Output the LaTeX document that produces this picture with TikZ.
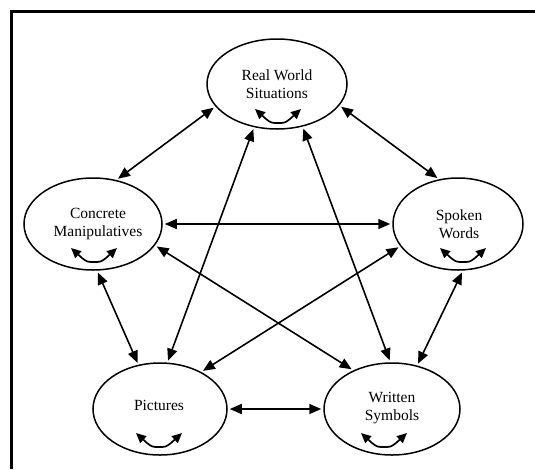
\documentclass[tikz,border=0pt]{standalone}
\usepackage{fontspec}
\setmainfont{Liberation Serif}
\usetikzlibrary{arrows.meta,shapes.geometric,bending}
\begin{document}
\begin{tikzpicture}[x=1pt,y=-1pt,
  bubble/.style={draw, ellipse, line width=1.5pt, inner sep=0pt},
  txt/.style={align=center, font=\fontsize{15.5}{18}\selectfont, inner sep=0pt},
  link/.style={{Triangle[length=12pt,width=10pt]}-{Triangle[length=12pt,width=10pt]}, line width=1.6pt, shorten <=2pt, shorten >=2pt},
  twist/.style={{Triangle[length=10pt,width=9pt,flex]}-{Triangle[length=10pt,width=9pt,flex]}, line width=1.7pt},
  frame/.style={line width=3pt}]
\useasboundingbox (0,0) rectangle (535,469);
\draw[frame] (11,469) -- (11,11.5) -- (535,11.5);

\node[bubble, minimum width=140, minimum height=90] (rw) at (277,84) {};
\node[bubble, minimum width=138, minimum height=92] (cm) at (93,224) {};
\node[bubble, minimum width=130, minimum height=92] (sw) at (458,224) {};
\node[bubble, minimum width=134, minimum height=92] (pi) at (160,409) {};
\node[bubble, minimum width=136, minimum height=92] (ws) at (392,409) {};

\node[txt] (rwt) at (277,84) {Real World\\Situations};
\node[txt] (cmt) at (98,224) {Concrete\\Manipulatives};
\node[txt] (swt) at (459,224) {Spoken\\Words};
\node[txt] (pit) at (159,405) {Pictures};
\node[txt] (wst) at (392,408) {Written\\Symbols};

\draw[link] (rw.200) -- (cm.62);
\draw[link] (rw.341) -- (sw.113);
\draw[link] (rw.242) -- (pi.81);
\draw[link] (rw.301) -- (ws.92);
\draw[link] (cm.0) -- (sw.180);
\draw[link] (cm.341) -- (ws.135);
\draw[link] (cm.275) -- (pi.116);
\draw[link] (sw.201) -- (pi.42);
\draw[link] (sw.276) -- (ws.60);
\draw[link] (pi.0) -- (ws.180);

\coordinate (rwb) at (278,123);
\coordinate (cmb) at (94,262);
\coordinate (swb) at (463,262);
\coordinate (pib) at (159,447);
\coordinate (wsb) at (384,447);
\foreach \b in {rwb,cmb,swb,pib,wsb}{
  \draw[twist] ([shift={(-23,-14)}]\b) -- ([shift={(-12,-4)}]\b) .. controls +(5,4) and +(-6,0) .. (\b)
    .. controls +(6,0) and +(-5,4) .. ([shift={(12,-4)}]\b) -- ([shift={(23,-14)}]\b);
}
\end{tikzpicture}
\end{document}
